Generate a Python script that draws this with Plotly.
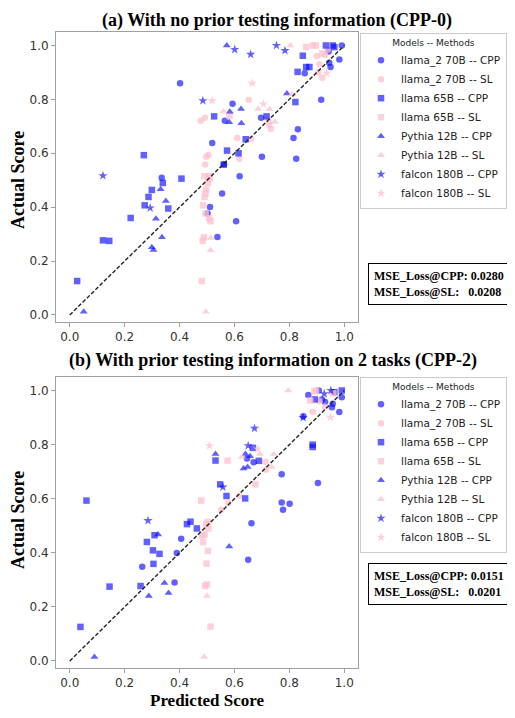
import plotly.graph_objects as go

# ---------------- data (predicted, actual) ----------------
# (a) CPP-0
a_llama2_cpp = [(0.991,1.0),(0.943,0.978),(0.945,0.936),(0.982,0.948),(0.95,0.92),(0.856,0.897),(0.402,0.86),
                (0.916,0.799),(0.593,0.784),(0.565,0.721),(0.697,0.732),(0.831,0.689),(0.815,0.657),(0.519,0.638),
                (0.70,0.587),(0.825,0.58),(0.335,0.509),(0.562,0.559),(0.619,0.515),(0.555,0.451),(0.511,0.401),
                (0.502,0.377),(0.606,0.348),(0.538,0.289)]
a_llama2_sl = [(0.652,0.799),(0.492,0.732),(0.477,0.721),(0.61,0.657),(0.66,0.653),(0.505,0.594),(0.497,0.587),
               (0.493,0.558),(0.618,0.58),(0.724,0.722),(0.727,0.705),(0.733,0.69),(0.90,0.96),(0.91,0.93),
               (0.905,0.90),(0.92,0.88),(0.93,0.965),(0.94,0.985)]
a_llama65_cpp = [(0.933,1.0),(0.958,1.0),(0.964,0.994),(0.849,0.962),(0.861,0.92),(0.873,0.92),(0.83,0.902),
                 (0.822,0.79),(0.526,0.737),(0.717,0.737),(0.641,0.652),(0.573,0.61),(0.615,0.60),(0.561,0.558),
                 (0.339,0.49),(0.407,0.506),(0.299,0.464),(0.287,0.438),(0.273,0.407),(0.359,0.395),(0.222,0.36),
                 (0.121,0.277),(0.144,0.275),(0.027,0.126),(0.27,0.593)]
a_llama65_sl = [(0.861,0.994),(0.885,1.0),(0.897,1.0),(0.582,0.738),(0.491,0.515),(0.509,0.515),(0.509,0.505),
                (0.503,0.49),(0.497,0.465),(0.495,0.451),(0.491,0.438),(0.486,0.407),(0.495,0.377),(0.508,0.359),
                (0.513,0.348),(0.489,0.288),(0.484,0.275),(0.481,0.126),(0.92,0.97)]
a_pythia_cpp = [(0.572,1.0),(0.791,0.822),(0.624,0.764),(0.583,0.754),(0.581,0.715),(0.625,0.711),(0.331,0.467),
                (0.35,0.423),(0.314,0.357),(0.336,0.288),(0.299,0.251),(0.305,0.241),(0.051,0.012)]
a_pythia_sl = [(0.804,1.0),(0.81,0.82),(0.56,0.755),(0.686,0.764),(0.728,0.763),(0.747,0.716),(0.514,0.286),
               (0.513,0.24),(0.496,0.012)]
a_falcon_cpp = [(0.601,0.985),(0.659,0.967),(0.753,1.0),(0.784,0.981),(0.485,0.795),(0.121,0.517),(0.293,0.397)]
a_falcon_sl = [(0.665,0.86),(0.519,0.795),(0.705,0.783),(0.936,0.897)]

# (b) CPP-2
b_llama2_cpp = [(0.907,1.0),(0.991,0.975),(0.869,0.983),(0.919,0.967),(0.93,0.958),(0.958,0.951),(0.955,0.938),
                (0.982,0.921),(0.851,0.905),(0.646,0.749),(0.67,0.735),(0.772,0.69),(0.904,0.658),(0.772,0.586),
                (0.801,0.581),(0.777,0.559),(0.662,0.509),(0.406,0.452),(0.39,0.399),(0.65,0.374),(0.382,0.29),
                (0.264,0.348)]
b_llama2_sl = [(0.885,0.921),(0.91,0.96),(0.93,0.94),(0.713,0.737),(0.715,0.707),(0.618,0.611),(0.578,0.584),
               (0.552,0.559)]
b_llama65_cpp = [(0.991,1.0),(0.964,0.994),(0.893,0.967),(0.885,0.80),(0.885,0.791),(0.667,0.788),(0.531,0.741),
                 (0.689,0.74),(0.548,0.653),(0.571,0.61),(0.639,0.601),(0.427,0.506),(0.44,0.515),(0.463,0.49),
                 (0.061,0.593),(0.281,0.44),(0.309,0.465),(0.303,0.409),(0.327,0.396),(0.305,0.359),(0.258,0.277),
                 (0.145,0.275),(0.039,0.126)]
b_llama65_sl = [(0.891,0.997),(0.897,1.0),(0.876,0.963),(0.575,0.741),(0.676,0.653),(0.479,0.593),(0.503,0.514),
                (0.497,0.506),(0.505,0.49),(0.482,0.464),(0.491,0.467),(0.486,0.44),(0.503,0.407),(0.498,0.36),
                (0.493,0.277),(0.50,0.283),(0.513,0.127),(0.96,0.99)]
b_pythia_cpp = [(0.531,0.765),(0.64,0.765),(0.657,0.757),(0.633,0.712),(0.648,0.717),(0.581,0.423),(0.322,0.468),
                (0.345,0.288),(0.36,0.251),(0.288,0.24),(0.09,0.015)]
b_pythia_sl = [(0.796,1.0),(0.627,0.754),(0.693,0.765),(0.743,0.765),(0.735,0.717),(0.50,0.24),(0.49,0.015)]
b_falcon_cpp = [(0.927,0.988),(0.951,1.0),(0.673,0.86),(0.65,0.796),(0.558,0.643),(0.285,0.519),(0.85,0.90)]
b_falcon_sl = [(0.509,0.796),(0.684,0.784),(0.95,0.901)]

diag = [0.0, 1.0]
ticks = [0.0, 0.2, 0.4, 0.6, 0.8, 1.0]
mse_a = (0.0280, 0.0208)
mse_b = (0.0151, 0.0201)

# ---------------- styles ----------------
BLUE = "rgba(0,0,255,0.62)"
PINK = "rgba(255,192,203,0.75)"
SYMS = {"llama_2 70B": ("circle", 6.5), "llama 65B": ("square", 6.5),
        "Pythia 12B": ("triangle-up", 7), "falcon 180B": ("star", 7)}

# the page body adds an 8px margin on every side; size the figure so nothing overflows the window
OFF = 8
W, H = 515 - 2 * OFF, 718 - 2 * OFF
def px(v): return (v - OFF) / W
def py(v): return 1 - (v - OFF) / H

fig = go.Figure()

panels = [
    ("x", "y", "legend", [("llama_2 70B", a_llama2_cpp, a_llama2_sl), ("llama 65B", a_llama65_cpp, a_llama65_sl),
                          ("Pythia 12B", a_pythia_cpp, a_pythia_sl), ("falcon 180B", a_falcon_cpp, a_falcon_sl)]),
    ("x2", "y2", "legend2", [("llama_2 70B", b_llama2_cpp, b_llama2_sl), ("llama 65B", b_llama65_cpp, b_llama65_sl),
                             ("Pythia 12B", b_pythia_cpp, b_pythia_sl), ("falcon 180B", b_falcon_cpp, b_falcon_sl)]),
]

for xa, ya, lg, groups in panels:
    for name, cpp, sl in groups:
        sym, sz = SYMS[name]
        for meth, pts, col in (("CPP", cpp, BLUE), ("SL", sl, PINK)):
            fig.add_trace(go.Scatter(
                x=[p[0] for p in pts], y=[p[1] for p in pts], mode="markers",
                name=f"{name} -- {meth}", legend=lg, xaxis=xa, yaxis=ya,
                marker=dict(symbol=sym, size=sz, color=col, line=dict(width=0))))
    fig.add_trace(go.Scatter(x=diag, y=diag, mode="lines", xaxis=xa, yaxis=ya, showlegend=False,
                             line=dict(color="#222222", width=1.4, dash="4px,2px")))

axis_common = dict(tickvals=ticks, tickformat=".1f", showgrid=False, zeroline=False,
                   showline=True, linecolor="#a0a0a0", linewidth=1, mirror=True,
                   ticks="outside", ticklen=4, tickcolor="#a0a0a0",
                   tickfont=dict(family="DejaVu Sans", size=12, color="#333333"))
YLO = -0.026

fig.update_layout(
    width=W, height=H, margin=dict(l=0, r=0, t=0, b=0),
    paper_bgcolor="white", plot_bgcolor="white",
    xaxis=dict(domain=[px(56), px(358)], anchor="y", range=[-0.05, 1.05], **axis_common),
    yaxis=dict(domain=[py(322), py(32)], anchor="x", range=[YLO, 1.05], **axis_common),
    xaxis2=dict(domain=[px(56), px(358)], anchor="y2", range=[-0.05, 1.05], **axis_common),
    yaxis2=dict(domain=[py(668), py(377)], anchor="x2", range=[YLO, 1.05], **axis_common),
)

leg_common = dict(bgcolor="white", bordercolor="#cccccc", borderwidth=1,
                  font=dict(family="DejaVu Sans", size=10.5, color="#222222"),
                  title=dict(text="Models -- Methods", side="top center",
                             font=dict(family="DejaVu Sans", size=9, color="#222222")),
                  xanchor="right", yanchor="top", itemwidth=30, tracegroupgap=0)
fig.update_layout(legend=dict(x=1.0, y=py(33), **leg_common),
                  legend2=dict(x=1.0, y=py(377), **leg_common))

serif = "Liberation Serif"
ann = [
    dict(text="<b>(a) With no prior testing information (CPP-0)</b>", x=px(277), y=py(20), size=18),
    dict(text="<b>(b) With prior testing information on 2 tasks (CPP-2)</b>", x=px(273), y=py(361), size=18),
    dict(text="<b>Predicted Score</b>", x=px(207), y=py(700), size=17),
]
for a in ann:
    fig.add_annotation(text=a["text"], x=a["x"], y=a["y"], xref="paper", yref="paper", showarrow=False,
                       xanchor="center", yanchor="middle", font=dict(family=serif, size=a["size"], color="black"))
for yc in (180, 520):
    fig.add_annotation(text="<b>Actual Score</b>", x=px(18), y=py(yc), xref="paper", yref="paper",
                       showarrow=False, textangle=-90, xanchor="center", yanchor="middle",
                       font=dict(family=serif, size=18, color="black"))
for yc, (c, s) in ((284, mse_a), (584, mse_b)):
    fig.add_annotation(text=f"<b>MSE_Loss@CPP: {c:.4f}<br>MSE_Loss@SL:\u00a0\u00a0 {s:.4f}</b>",
                       x=px(439), y=py(yc), xref="paper", yref="paper", showarrow=False, align="left",
                       xanchor="center", yanchor="middle", bordercolor="black", borderwidth=1, borderpad=5,
                       bgcolor="white", font=dict(family=serif, size=12, color="black"))

fig.write_html("out.html")
